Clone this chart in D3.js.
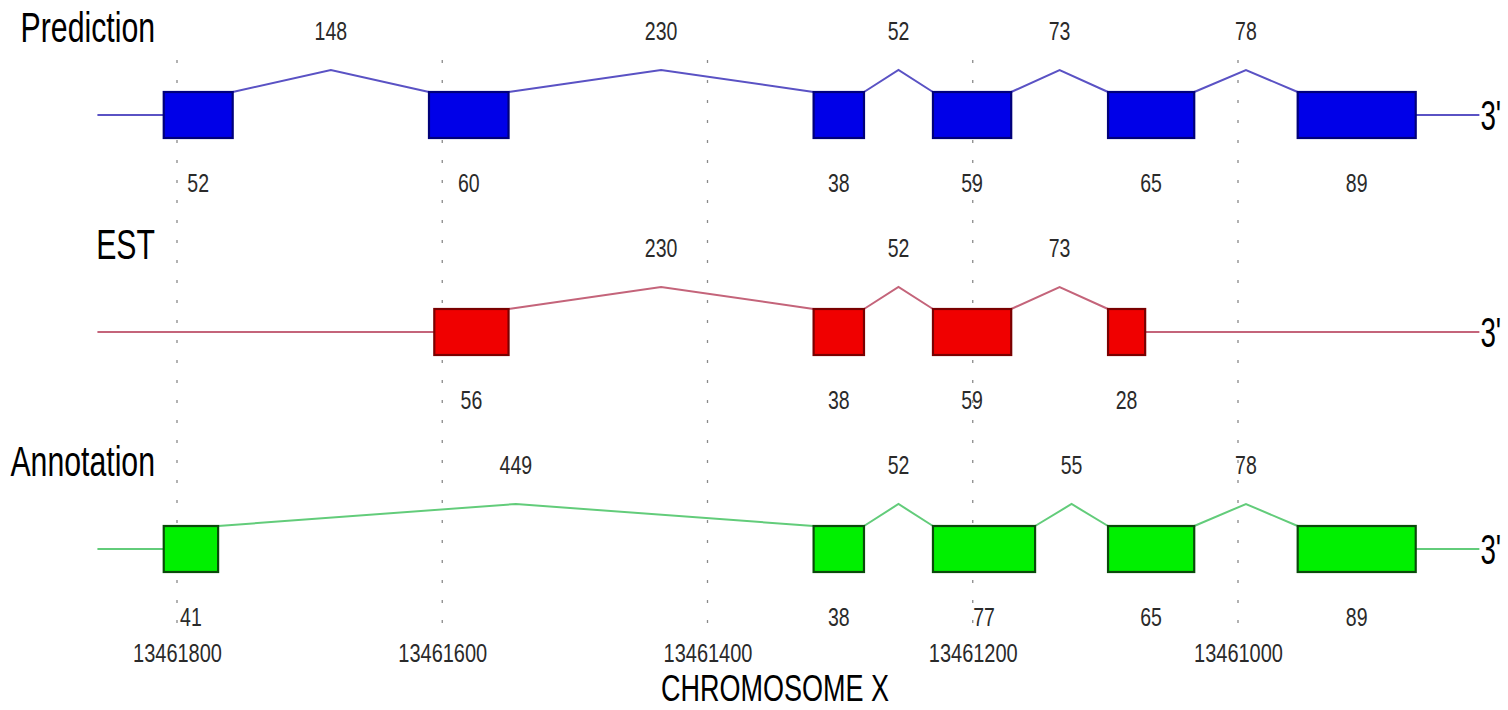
<!DOCTYPE html>
<html>
<head>
<meta charset="utf-8">
<script src="https://cdn.jsdelivr.net/npm/d3@7"></script>
<style>
  html, body { margin: 0; padding: 0; background: #fff; }
  svg { display: block; font-family: "Liberation Sans", Arial, sans-serif; }
</style>
</head>
<body>
<svg id="chart" width="1508" height="710"></svg>
<script>
// Gene models along chromosome X (coordinates decrease left to right)
const trackNames = ["Prediction", "EST", "Annotation"];

// exon and intron lengths (bp), listed 5' -> 3', with the first exon's start coordinate
const predictionStart = 13461810;
const predictionExons = [52, 60, 38, 59, 65, 89];
const predictionIntrons = [148, 230, 52, 73, 78];

const estStart = 13461606;
const estExons = [56, 38, 59, 28];
const estIntrons = [230, 52, 73];

const annotationStart = 13461810;
const annotationExons = [41, 38, 77, 65, 89];
const annotationIntrons = [449, 52, 55, 78];

// region drawn by the flanking line, and axis ticks
const regionFrom = 13461860;
const regionTo = 13460818;
const tickValues = [13461800, 13461600, 13461400, 13461200, 13461000];
const axisTitle = "CHROMOSOME X";

const tracks = [
  { name: trackNames[0], start: predictionStart, exons: predictionExons, introns: predictionIntrons,
    fill: "#0000e8", stroke: "#00007a", line: "#5a52c4" },
  { name: trackNames[1], start: estStart, exons: estExons, introns: estIntrons,
    fill: "#f00000", stroke: "#7a0000", line: "#c4647a" },
  { name: trackNames[2], start: annotationStart, exons: annotationExons, introns: annotationIntrons,
    fill: "#00f000", stroke: "#0a4a0a", line: "#62cc7a" }
];

const svg = d3.select("#chart");

const x = d3.scaleLinear()
  .domain([tickValues[0], tickValues[tickValues.length - 1]])
  .range([177, 1238]);

const y = d3.scalePoint().domain(trackNames).range([115, 549]);

const boxH = 46;
const peak = 22;
const squeeze = 0.72;

function condensedText(g, tx, ty, str, size, anchor, sx, fill) {
  g.append("text")
    .attr("transform", `translate(${tx},${ty}) scale(${sx},1)`)
    .attr("text-anchor", anchor)
    .attr("font-size", size)
    .attr("fill", fill)
    .text(str);
}

// dotted guides at each tick position
svg.append("g").selectAll("line")
  .data(tickValues)
  .join("line")
  .attr("x1", d => x(d)).attr("x2", d => x(d))
  .attr("y1", 60).attr("y2", 630)
  .attr("stroke", "#8a8a8a")
  .attr("stroke-width", 1.3)
  .attr("stroke-dasharray", "3 17");

tracks.forEach(t => {
  const cy = y(t.name);
  const top = cy - boxH / 2;
  const g = svg.append("g");

  // exon layout from lengths
  let pos = t.start;
  const exons = [];
  t.exons.forEach((len, i) => {
    exons.push({ from: pos, to: pos - len, len });
    pos -= len;
    if (i < t.introns.length) pos -= t.introns[i];
  });

  const first = exons[0], last = exons[exons.length - 1];

  // flanking lines
  g.append("line")
    .attr("x1", x(regionFrom)).attr("x2", x(first.from))
    .attr("y1", cy).attr("y2", cy)
    .attr("stroke", t.line).attr("stroke-width", 2);
  g.append("line")
    .attr("x1", x(last.to)).attr("x2", x(regionTo))
    .attr("y1", cy).attr("y2", cy)
    .attr("stroke", t.line).attr("stroke-width", 2);

  // introns as carets
  t.introns.forEach((len, i) => {
    const a = x(exons[i].to), b = x(exons[i + 1].from);
    const mid = (a + b) / 2;
    g.append("path")
      .attr("d", d3.line()([[a, top], [mid, top - peak], [b, top]]))
      .attr("fill", "none")
      .attr("stroke", t.line)
      .attr("stroke-width", 2);
    condensedText(g, mid, cy - 75, len, 25, "middle", 0.78, "#2a2a2a");
  });

  // exons
  g.selectAll("rect")
    .data(exons)
    .join("rect")
    .attr("x", d => x(d.from))
    .attr("y", top)
    .attr("width", d => x(d.to) - x(d.from))
    .attr("height", boxH)
    .attr("fill", t.fill)
    .attr("stroke", t.stroke)
    .attr("stroke-width", 2.2);

  exons.forEach(d => {
    condensedText(g, (x(d.from) + x(d.to)) / 2, cy + 77, d.len, 25, "middle", 0.78, "#2a2a2a");
  });

  // track name and 3' end marker
  condensedText(g, 155, cy - 73, t.name, 42, "end", squeeze, "#000");
  condensedText(g, x(regionTo) + 1, cy + 15, "3'", 42, "start", 0.66, "#000");
});

// coordinate axis
const axis = svg.append("g")
  .attr("transform", "translate(0,644)")
  .call(d3.axisBottom(x).tickValues(tickValues).tickFormat(d3.format("d")).tickSize(0));
axis.select(".domain").remove();
axis.selectAll("text")
  .attr("font-family", "Liberation Sans, Arial, sans-serif")
  .attr("font-size", 25)
  .attr("fill", "#2a2a2a")
  .attr("dy", "0.72em")
  .attr("y", 0)
  .attr("transform", "scale(0.8,1)");

condensedText(svg, 775, 701, axisTitle, 36, "middle", 0.75, "#000");
</script>
</body>
</html>
